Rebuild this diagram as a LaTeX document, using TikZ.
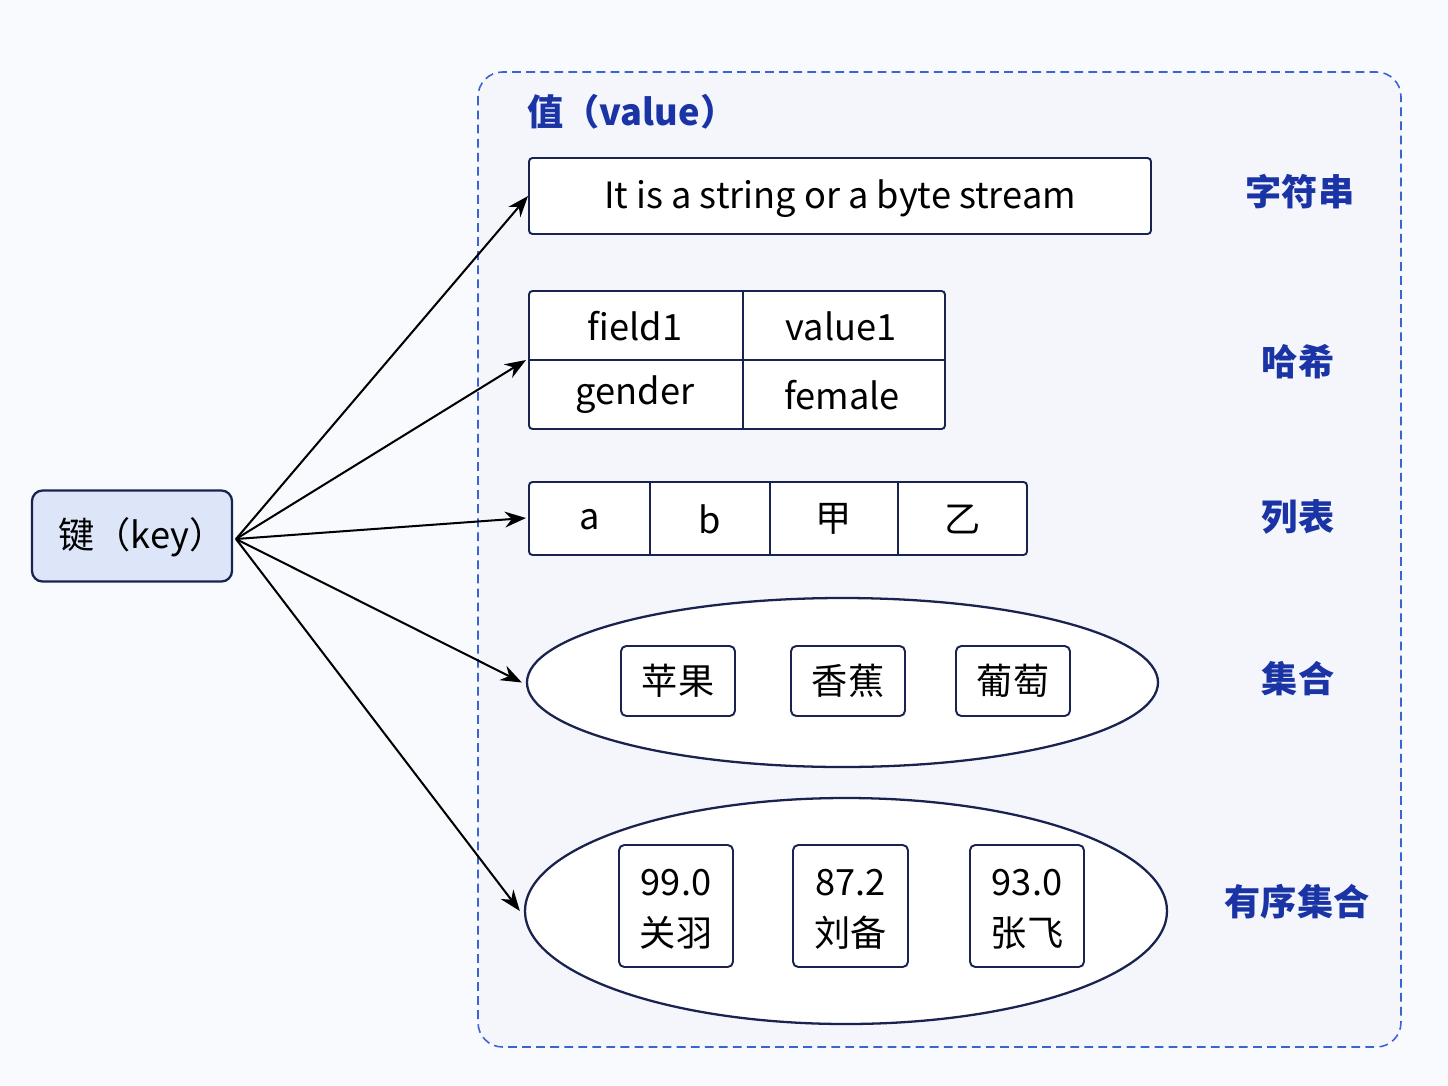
\documentclass[tikz,border=0pt]{standalone}
\usepackage{fontspec}
\setmainfont{Noto Sans CJK SC}
\usetikzlibrary{arrows.meta,shapes.geometric}
\definecolor{bg}{HTML}{F9FAFD}
\definecolor{inbg}{HTML}{F4F6FC}
\definecolor{navy}{HTML}{1A2350}
\definecolor{keyfill}{HTML}{DDE6F8}
\definecolor{dashblue}{HTML}{3B63D3}
\definecolor{titleblue}{HTML}{1A34A6}
\tikzset{
  px/.style={x=0.02cm,y=-0.02cm},
  cell/.style={draw=navy,line width=1.1pt,fill=white,rounded corners=2pt},
  itembox/.style={draw=navy,line width=1.1pt,fill=white,rounded corners=3pt,inner sep=0pt},
  txt/.style={font=\fontsize{20.6}{24}\selectfont,text=black,inner sep=0pt},
  lbl/.style={font=\fontsize{20.6}{24}\selectfont\bfseries,text=titleblue,inner sep=0pt},
  conn/.style={draw=black,line width=1.15pt,-{Stealth[length=12pt,width=9pt]}},
  ell/.style={draw=navy,line width=1.3pt,fill=white,ellipse,inner sep=0pt}
}
\begin{document}
\begin{tikzpicture}[px]
\fill[bg] (0,0) rectangle (1448,1086);
\useasboundingbox (0,0) rectangle (1448,1086);
% container
\draw[dashblue,dashed,line width=0.9pt,fill=inbg,rounded corners=14pt,dash pattern=on 5pt off 3pt] (478,72) rectangle (1401,1047);
\node[lbl,anchor=west] (title) at (527,112) {值（value）};
% key
\node[draw=navy,line width=1.3pt,fill=keyfill,rounded corners=6pt,minimum width=200*0.02cm,minimum height=91*0.02cm] (key) at (132,536) {};
\node[txt] (keytxt) at (142,537) {键（key）};
\coordinate (ks) at (236,539);
% string
\node[cell,minimum width=622*0.02cm,minimum height=76*0.02cm] (str) at (840,196) {};
\node[txt] (strtxt) at (840,199) {It is a string or a byte stream};
% hash
\draw[cell] (529,291) rectangle (945,429);
\draw[navy,line width=1.1pt] (743,291) -- (743,429) (529,360) -- (945,360);
\coordinate (hash) at (529,360);
\node[txt] (h1) at (635,326) {field1};
\node[txt] (h2) at (841,326) {value1};
\node[txt] (h3) at (635,395) {gender};
\node[txt] (h4) at (842,395) {female};
% list
\draw[cell] (529,482) rectangle (1027,555);
\draw[navy,line width=1.1pt] (650,482) -- (650,555) (770,482) -- (770,555) (898,482) -- (898,555);
\coordinate (list) at (529,518);
\node[txt] (l1) at (589.5,520) {a};
\node[txt] (l2) at (710,519) {b};
\node[txt] (l3) at (834,519) {甲};
\node[txt] (l4) at (962.5,519) {乙};
% set
\node[ell,minimum width=631*0.02cm,minimum height=169*0.02cm] (set) at (842.5,682.5) {};
\node[itembox,minimum width=114*0.02cm,minimum height=70*0.02cm,txt] (s1) at (678,681) {苹果};
\node[itembox,minimum width=114*0.02cm,minimum height=70*0.02cm,txt] (s2) at (848,681) {香蕉};
\node[itembox,minimum width=114*0.02cm,minimum height=70*0.02cm,txt] (s3) at (1013,681) {葡萄};
% zset
\node[ell,minimum width=642*0.02cm,minimum height=226*0.02cm] (zset) at (846,911) {};
\node[itembox,minimum width=114*0.02cm,minimum height=122*0.02cm] (z1) at (676,906) {};
\node[itembox,minimum width=115*0.02cm,minimum height=122*0.02cm] (z2) at (850.5,906) {};
\node[itembox,minimum width=114*0.02cm,minimum height=122*0.02cm] (z3) at (1027,906) {};
\node[txt,align=center] (z1t) at (676,909) {99.0\\[5pt]关羽};
\node[txt,align=center] (z2t) at (850.5,909) {87.2\\[5pt]刘备};
\node[txt,align=center] (z3t) at (1027,909) {93.0\\[5pt]张飞};
% labels
\node[lbl] (t1) at (1300,192) {字符串};
\node[lbl] (t2) at (1298,362) {哈希};
\node[lbl] (t3) at (1298,517) {列表};
\node[lbl] (t4) at (1298,679) {集合};
\node[lbl] (t5) at (1297,902) {有序集合};
% arrows
\draw[conn] (ks) -- (str.west);
\draw[conn] (ks) -- ([xshift=-3*0.02cm]hash);
\draw[conn] (ks) -- ([xshift=-3*0.02cm]list);
\draw[conn] (ks) -- ([xshift=-4*0.02cm]set.west);
\draw[conn] (ks) -- ([xshift=-4*0.02cm]zset.west);
\end{tikzpicture}
\end{document}
